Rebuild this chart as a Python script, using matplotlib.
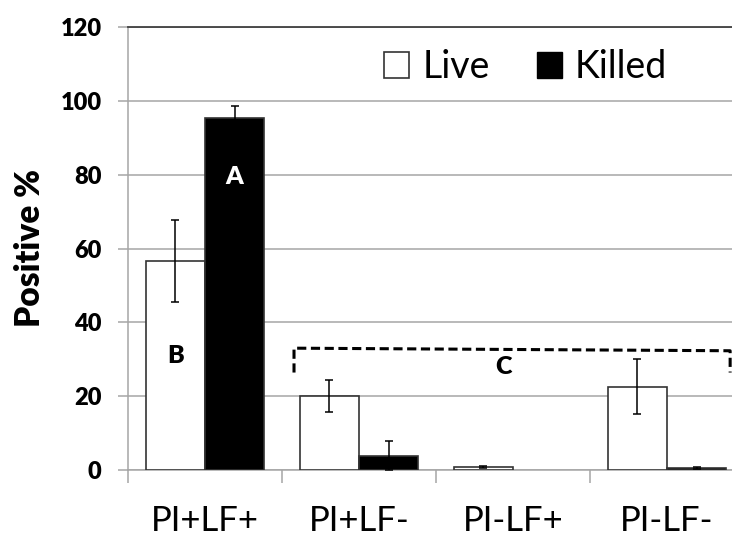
import matplotlib

matplotlib.use("Agg")

import matplotlib.pyplot as plt
import numpy as np
from matplotlib.patches import Patch

plt.rcParams["font.family"] = ["Lato", "DejaVu Sans"]

categories = ["PI+LF+", "PI+LF-", "PI-LF+", "PI-LF-"]
live_values = [56.5, 20.0, 0.8, 22.6]
live_errors = [11.1, 4.4, 0.3, 7.4]
killed_values = [95.4, 3.9, 0.0, 0.5]
killed_errors = [3.3, 3.9, 0.0, 0.3]
y_ticks = [0, 20, 40, 60, 80, 100, 120]

# group letters (text, x, y) in data coordinates
group_labels = [("A", 0.19, 79.5, "white"), ("B", -0.19, 31.0, "black"), ("C", 1.94, 28.0, "black")]
bracket_x = [0.578, 0.578, 3.41, 3.41]
bracket_y = [26.4, 33.0, 32.3, 26.4]

GRID = "#a6a6a6"
EDGE = "#333333"

fig = plt.figure(figsize=(7.32, 5.38), dpi=100, facecolor="white")
ax = fig.add_axes([128 / 732, 68 / 538, 616 / 732, 443 / 538])

x = np.arange(len(categories))
w = 0.385


def draw_series(xpos, values, errors, face):
    # zero-height bars get no outline, like the original
    lws = [1.2 if v > 0 else 0 for v in values]
    ax.bar(xpos, values, w, color=face, edgecolor=EDGE, linewidth=lws, zorder=3)
    keep = [i for i, v in enumerate(values) if v > 0]
    ax.errorbar(xpos[keep], np.array(values)[keep], yerr=np.array(errors)[keep],
                fmt="none", ecolor="black", elinewidth=1.1, capsize=3,
                capthick=1.1, zorder=4)


draw_series(x - w / 2, live_values, live_errors, "white")
draw_series(x + w / 2, killed_values, killed_errors, "black")

for txt, tx, ty, col in group_labels:
    ax.text(tx, ty, txt, ha="center", va="center", fontsize=18, fontweight="heavy",
            color=col, zorder=5)

ax.plot(bracket_x, bracket_y, color="black", linewidth=2.2,
        linestyle=(0, (3, 1.5)), zorder=5, clip_on=False)

ax.set_xlim(-0.5, 3.5)
ax.set_ylim(0, 120)
ax.set_yticks(y_ticks)
ax.yaxis.grid(True, color=GRID, linewidth=1.1, zorder=0)
ax.set_axisbelow(True)

ax.set_xticks(x)
ax.set_xticklabels(categories)
ax.set_xticks(np.arange(-0.5, 4.0, 1.0), minor=True)
ax.tick_params(axis="x", which="major", length=0, pad=25, labelsize=25)
ax.tick_params(axis="x", which="minor", length=9.5, width=1.1, color=GRID, direction="out")
ax.tick_params(axis="y", length=7, width=1.1, color=GRID, direction="out", pad=12,
               labelsize=17)
for lbl in ax.get_yticklabels():
    lbl.set_fontweight("heavy")

for side in ["left", "bottom"]:
    ax.spines[side].set_color(GRID)
    ax.spines[side].set_linewidth(1.1)
ax.spines["right"].set_visible(False)
ax.spines["top"].set_color("#404040")
ax.spines["top"].set_linewidth(1.3)

fig.text(30 / 732, 1 - 248 / 538, "Positive %", rotation=90, ha="center", va="center",
         fontsize=24, fontweight="heavy")

handles = [Patch(facecolor="white", edgecolor=EDGE, linewidth=1.2),
           Patch(facecolor="black", edgecolor="black")]
fig.legend(handles, ["Live", "Killed"], ncol=2, frameon=False, fontsize=27,
           loc="center left", bbox_to_anchor=(384 / 732, 1 - 67 / 538),
           borderpad=0, handlelength=0.67, handleheight=0.67,
           handletextpad=0.35, columnspacing=1.25, borderaxespad=0)

fig.savefig("out.png", dpi=100, facecolor="white")
